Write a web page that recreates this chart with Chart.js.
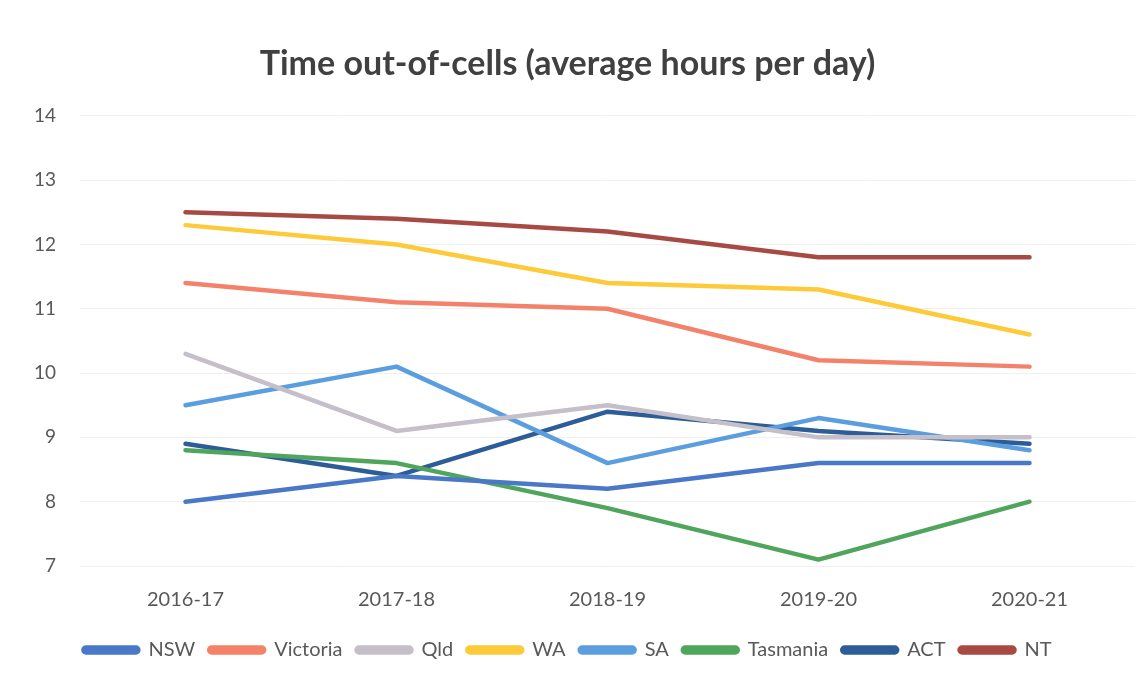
<!DOCTYPE html>
<html>
<head>
<meta charset="utf-8">
<script src="https://cdn.jsdelivr.net/npm/chart.js@4"></script>
<style>
  body { margin: 0; background: #fff; }
  #wrap { width: 1142px; height: 675px; }
</style>
</head>
<body>
<div id="wrap"><canvas id="myChart" width="1142" height="675"></canvas></div>
<script>
var years = ["2016-17", "2017-18", "2018-19", "2019-20", "2020-21"];
var nsw = [8.0, 8.4, 8.2, 8.6, 8.6];
var victoria = [11.4, 11.1, 11.0, 10.2, 10.1];
var qld = [10.3, 9.1, 9.5, 9.0, 9.0];
var wa = [12.3, 12.0, 11.4, 11.3, 10.6];
var sa = [9.5, 10.1, 8.6, 9.3, 8.8];
var tasmania = [8.8, 8.6, 7.9, 7.1, 8.0];
var act = [8.9, 8.4, 9.4, 9.1, 8.9];
var nt = [12.5, 12.4, 12.2, 11.8, 11.8];
var yTicks = [7, 8, 9, 10, 11, 12, 13, 14];

function series(label, data, color) {
  return {
    label: label,
    data: data,
    borderColor: color,
    backgroundColor: color,
    borderWidth: 4.5,
    pointRadius: 0,
    tension: 0,
    borderCapStyle: "round",
    borderJoinStyle: "round",
  };
}

var ctx = document.getElementById("myChart").getContext("2d");
var chart = new Chart(ctx, {
  type: "line",
  data: {
    labels: years,
    datasets: [
      series("NSW", nsw, "#4a78c8"),
      series("Victoria", victoria, "#f4826a"),
      series("Qld", qld, "#c4bfc8"),
      series("WA", wa, "#fdca3a"),
      series("SA", sa, "#5b9ee0"),
      series("Tasmania", tasmania, "#4fa55c"),
      series("ACT", act, "#2d5d98"),
      series("NT", nt, "#a84a44"),
    ],
  },
  options: {
    responsive: false,
    animation: false,
    layout: { padding: { left: 0, right: 7, top: 44, bottom: 5 } },
    plugins: {
      title: {
        display: true,
        text: "Time out-of-cells (average hours per day)",
        color: "#404040",
        font: { family: "Lato", size: 34, weight: "bold" },
        padding: { top: 0, bottom: 31 },
      },
      legend: {
        position: "bottom",
        labels: {
          color: "#595959",
          font: { family: "Lato", size: 20 },
          boxWidth: 55,
          boxHeight: 5,
          useBorderRadius: true,
          borderRadius: 2.5,
          padding: 14,
        },
      },
      tooltip: { enabled: false },
    },
    scales: {
      x: {
        offset: true,
        grid: { display: false },
        border: { display: false },
        ticks: {
          color: "#595959",
          font: { family: "Lato", size: 20 },
          padding: 14,
        },
      },
      y: {
        min: 7,
        max: 14,
        afterBuildTicks: function (scale) {
          scale.ticks = yTicks.map(function (v) { return { value: v }; });
        },
        afterFit: function (scale) {
          scale.width = 80;
        },
        grid: { color: "#f0f0f0", drawTicks: false },
        border: { display: false },
        ticks: {
          color: "#595959",
          font: { family: "Lato", size: 19 },
          padding: 24,
        },
      },
    },
  },
});
</script>
</body>
</html>
